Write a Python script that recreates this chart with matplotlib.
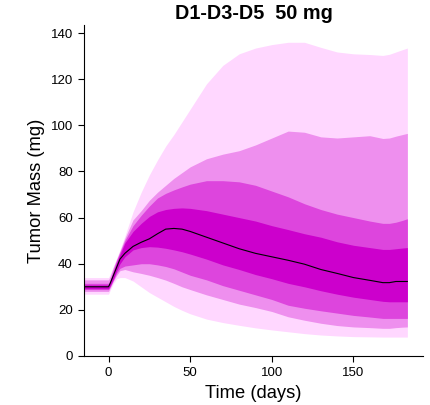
import numpy as np
import matplotlib
matplotlib.use("Agg")
import matplotlib.pyplot as plt

plt.rcParams['font.family'] = ['Liberation Sans', 'DejaVu Sans']

# time points (days)
t = [-15, 0, 1, 3, 5, 7, 10, 15, 20, 25, 30, 35, 40, 45, 50, 60, 70, 80, 90,
     100, 110, 120, 130, 140, 150, 160, 168, 172, 176, 180, 183]

median = [30, 30, 31.5, 35, 38.5, 42, 44.5, 47.5, 49.3, 50.8, 53, 55, 55.3, 55, 54,
          51.5, 49, 46.5, 44.5, 43, 41.5, 39.8, 37.5, 35.8, 34, 32.8, 31.8, 31.8,
          32.3, 32.3, 32.3]

# percentile bands (upper / lower), from inner to outer
inner_hi = [30.8, 30.8, 32.5, 36.5, 40.5, 44, 49, 54, 57.5, 60.5, 62.5, 63.5, 64, 64.2, 64,
            63, 61.5, 60, 58.5, 56.5, 54.8, 53, 51.5, 49.5, 48, 47, 46.2, 46.2, 46.5, 46.8, 47]
inner_lo = [29.2, 29.2, 30.5, 33.5, 37, 40, 43, 46, 47, 47.4, 47.2, 46.7, 46, 45.2, 44.2,
            42, 39.5, 37.5, 35.3, 33.5, 31.5, 30, 28.3, 26.8, 25.5, 24.5, 23.7, 23.5, 23.5, 23.5, 23.5]

mid_hi = [31.5, 31.5, 33, 37.5, 41.5, 45, 50, 56.5, 61, 65, 68.5, 70.5, 72, 73.3, 74.5,
          76, 76, 75.5, 74, 71.5, 69, 66, 63.5, 61.5, 60, 58.5, 57.5, 57.5, 58, 58.8, 59.5]
mid_lo = [28.8, 28.8, 30, 33, 36, 38, 39, 39.5, 40, 40, 39.5, 38.8, 37.8, 36.4, 35,
          33, 30.5, 28.5, 26.5, 24.5, 22, 20.7, 19.6, 18.6, 17.6, 16.9, 16.3, 16.3, 16.3, 16.3, 16.3]

wide_hi = [33, 33, 34.5, 38.5, 42, 45.5, 51, 59, 63, 67.5, 71, 74, 77, 79.5, 82,
           85.5, 87.5, 89, 91.5, 94.5, 97.5, 97, 95, 94.5, 95, 95.5, 94.3, 94.5, 95.3, 96, 96.5]
wide_lo = [28, 28, 29.5, 32.5, 35, 37, 37.5, 36.5, 35.8, 35, 34, 32.9, 31.5, 30, 28.8,
           26.5, 24.5, 22.5, 21, 19.3, 17, 15.5, 14.2, 13.2, 12.6, 12.3, 12, 12, 12.3, 12.5, 12.6]

outer_hi = [34, 34, 35.5, 39, 42.5, 46, 52, 62.5, 71, 78.5, 85, 91, 96, 101.5, 107,
            118, 126, 131, 133.5, 135, 136, 136, 133.8, 131.8, 131, 130.7, 130.3, 130.8,
            131.8, 132.8, 133.5]
outer_lo = [26.8, 26.8, 28.5, 31.5, 33.5, 34, 34, 32.5, 30, 27.5, 25.5, 23.5, 21.5, 19.8, 18.3,
            16, 14.5, 13.3, 12.2, 11.3, 10.5, 9.7, 9.1, 8.7, 8.4, 8.3, 8.2, 8.2, 8.2, 8.2, 8.2]

t = np.array(t)

fig = plt.figure(figsize=(4.31, 4.05), dpi=100)
ax = fig.add_axes([0.195, 0.121, 0.7865, 0.8173])

ax.fill_between(t, outer_lo, outer_hi, color="#FFD7FF", lw=0)
ax.fill_between(t, wide_lo, wide_hi, color="#EE8FEE", lw=0)
ax.fill_between(t, mid_lo, mid_hi, color="#DD45DD", lw=0)
ax.fill_between(t, inner_lo, inner_hi, color="#CC00CC", lw=0)
ax.plot(t, median, color="black", lw=0.8)

ax.set_xlim(-15, 192.6)
ax.set_ylim(0, 143.5)
ax.set_xticks([0, 50, 100, 150])
ax.set_yticks(range(0, 141, 20))
ax.tick_params(labelsize=9.5, length=4.5, width=0.8, direction="out")
ax.spines["top"].set_visible(False)
ax.spines["right"].set_visible(False)
for s in ("left", "bottom"):
    ax.spines[s].set_linewidth(0.8)

ax.set_xlabel("Time (days)", fontsize=13.2)
ax.set_ylabel("Tumor Mass (mg)", fontsize=13.2)
ax.set_title("D1-D3-D5  50 mg", fontsize=14.3, fontweight="bold", pad=4)

fig.savefig("out.png", dpi=100)
